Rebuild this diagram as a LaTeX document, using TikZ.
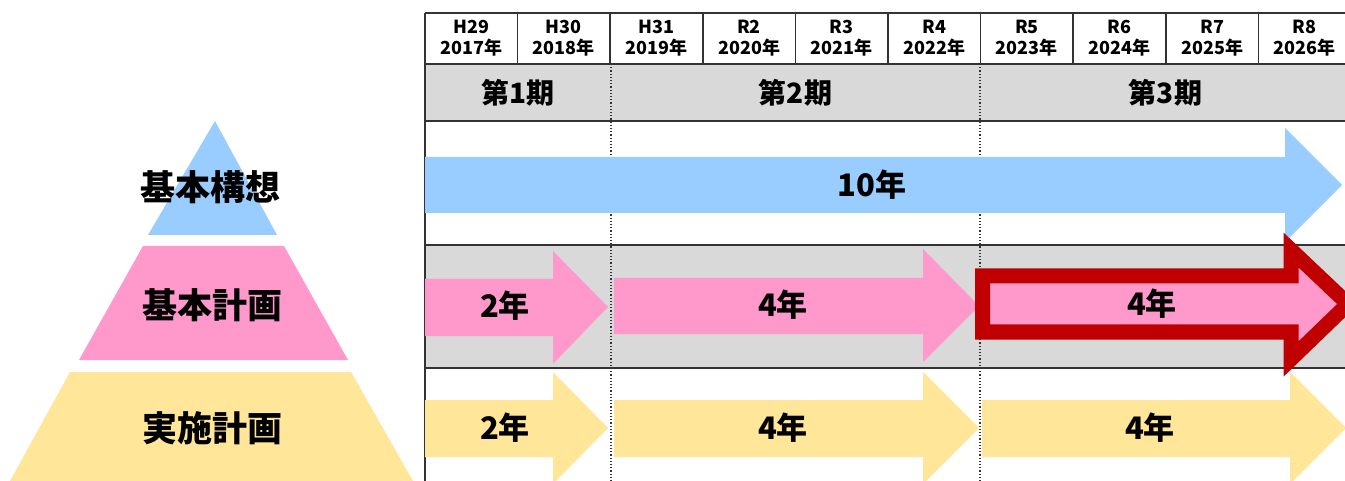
\documentclass[tikz,border=0pt]{standalone}
\usepackage{fontspec}
\newfontfamily\jp{Noto Sans CJK JP}
\definecolor{cblue}{HTML}{99CCFF}
\definecolor{cpink}{HTML}{FF99CC}
\definecolor{cyel}{HTML}{FFE699}
\definecolor{cgray}{HTML}{D9D9D9}
\definecolor{cred}{HTML}{C00000}
\definecolor{cline}{HTML}{333333}
\tikzset{
  grid/.style={draw=cline, line width=1.6pt},
  dotline/.style={draw=cline, line width=1.2pt, dotted},
  hdr/.style={font=\jp\fontsize{18}{21}\selectfont\bfseries, align=center, inner sep=0pt},
  period/.style={font=\jp\fontsize{28}{30}\selectfont\bfseries, inner sep=0pt},
  alabel/.style={font=\jp\fontsize{31}{33}\selectfont\bfseries, inner sep=0pt},
  plabel/.style={font=\jp\fontsize{35}{38}\selectfont\bfseries, inner sep=0pt},
}
\begin{document}
\begin{tikzpicture}[x=1pt,y=-1pt]
\useasboundingbox (0,0) rectangle (1345,481);
\fill[white] (0,0) rectangle (1345,481);
\begin{scope}
\clip (0,0) rectangle (1345,481);
% gray rows
\fill[cgray] (425,64) rectangle (1351,121);
\fill[cgray] (425,245) rectangle (1351,368);
% grid lines
\draw[grid] (425,13) -- (1351,13);
\draw[grid] (425,64) -- (1351,64);
\draw[grid] (425,121) -- (1351,121);
\draw[grid] (425,245) -- (1351,245);
\draw[grid] (425,368) -- (1351,368);
\draw[grid] (425,13) -- (425,481);
\foreach \i in {1,...,9} {
  \draw[grid] ({425+92.6*\i},13) -- ({425+92.6*\i},64);
}
\draw[dotline] (611,64) -- (611,481);
\draw[dotline] (980,64) -- (980,481);
% header labels
\foreach \i/\ya/\yb in {0/H29/2017,1/H30/2018,2/H31/2019,3/R2/2020,4/R3/2021,5/R4/2022,6/R5/2023,7/R6/2024,8/R7/2025,9/R8/2026} {
  \node[hdr] (y\i) at ({425+92.6*\i+46.3},38) {\ya\\\yb{}年};
}
\node[period] (p1) at (518,93) {第1期};
\node[period] (p2) at (795.5,93) {第2期};
\node[period] (p3) at (1165.5,93) {第3期};
% pyramid
\fill[cblue] (215,121) -- (277,235) -- (148,235) -- cycle;
\fill[cpink] (143,246) -- (284,246) -- (348,360) -- (79,360) -- cycle;
\fill[cyel] (70,372) -- (351,372) -- (413,481) -- (10,481) -- cycle;
\node[plabel] (t1) at (210,187) {基本構想};
\node[plabel] (t2) at (212,305) {基本計画};
\node[plabel] (t3) at (212,428) {実施計画};
% blue arrow
\fill[cblue] (425,157) -- (1285,157) -- (1285,128) -- (1342,185) -- (1285,242) -- (1285,213) -- (425,213) -- cycle;
\node[alabel] (a0) at (872,185) {10年};
% pink arrows
\fill[cpink] (425,279) -- (553,279) -- (553,251) -- (608,307) -- (553,364) -- (553,336) -- (425,336) -- cycle;
\fill[cpink] (614,278) -- (923,278) -- (923,249) -- (979,306) -- (923,362) -- (923,334) -- (614,334) -- cycle;
\filldraw[fill=cpink, draw=cred, line width=15pt, miter limit=10] (982.5,276) -- (1291,276) -- (1291,250) -- (1348,304) -- (1291,359) -- (1291,332) -- (982.5,332) -- cycle;
\node[alabel] (a1) at (505,306) {2年};
\node[alabel] (a2) at (783,305) {4年};
\node[alabel] (a3) at (1152,304) {4年};
% yellow arrows
\fill[cyel] (425,400) -- (553,400) -- (553,372) -- (608,428) -- (553,484) -- (553,457) -- (425,457) -- cycle;
\fill[cyel] (614,400) -- (923,400) -- (923,372) -- (979,428) -- (923,484) -- (923,457) -- (614,457) -- cycle;
\fill[cyel] (982,400) -- (1290,400) -- (1290,372) -- (1346,428) -- (1290,484) -- (1290,457) -- (982,457) -- cycle;
\node[alabel] (b1) at (505,428) {2年};
\node[alabel] (b2) at (783,428) {4年};
\node[alabel] (b3) at (1150,428) {4年};
\end{scope}
\end{tikzpicture}
\end{document}
